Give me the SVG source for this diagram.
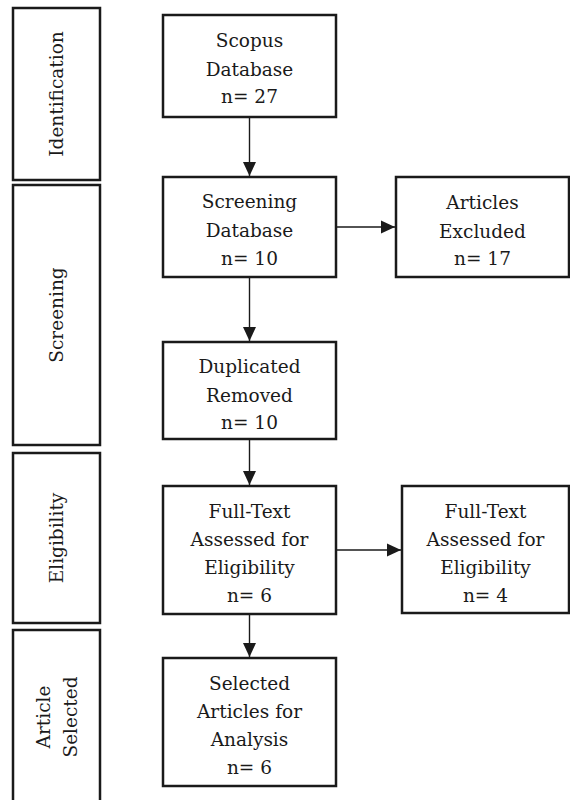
<svg xmlns="http://www.w3.org/2000/svg" width="570" height="800" viewBox="0 0 570 800">
<style>
.box{fill:#fff;stroke:#1a1a1a;stroke-width:2.5}
.t{font-family:"DejaVu Serif","Liberation Serif",serif;font-size:18.5px;fill:#1a1a1a;text-anchor:middle}
.c{stroke:#1a1a1a;stroke-width:1.4;fill:none;marker-end:url(#ah)}
</style>
<defs>
<marker id="ah" markerUnits="userSpaceOnUse" markerWidth="14" markerHeight="14" viewBox="0 0 14 14" refX="14" refY="7" orient="auto">
<path d="M0,0.5 L14,7 L0,13.5 Z" fill="#1a1a1a"/>
</marker>
</defs>
<rect width="570" height="800" fill="#fff"/>
<g id="stage-identification">
<rect class="box" x="13" y="8" width="87" height="172"/>
<text class="t" transform="translate(63,94) rotate(-90)">Identification</text>
</g>
<g id="stage-screening">
<rect class="box" x="13" y="185" width="87" height="260"/>
<text class="t" transform="translate(63,315) rotate(-90)">Screening</text>
</g>
<g id="stage-eligibility">
<rect class="box" x="13" y="453" width="87" height="170"/>
<text class="t" transform="translate(63,538) rotate(-90)">Eligibility</text>
</g>
<g id="stage-selected">
<rect class="box" x="13" y="630" width="87" height="175"/>
<text class="t" transform="translate(50,717) rotate(-90)">Article</text>
<text class="t" transform="translate(77,717) rotate(-90)">Selected</text>
</g>
<g id="scopus">
<rect class="box" x="163" y="15" width="173" height="102"/>
<text class="t" x="249.5" y="47">Scopus</text>
<text class="t" x="249.5" y="76">Database</text>
<text class="t" x="249.5" y="103">n= 27</text>
</g>
<g id="screening">
<rect class="box" x="163" y="177" width="173" height="100"/>
<text class="t" x="249.5" y="208">Screening</text>
<text class="t" x="249.5" y="237">Database</text>
<text class="t" x="249.5" y="265">n= 10</text>
</g>
<g id="excluded">
<rect class="box" x="396" y="177" width="173" height="100"/>
<text class="t" x="482.5" y="209">Articles</text>
<text class="t" x="482.5" y="238">Excluded</text>
<text class="t" x="482.5" y="265">n= 17</text>
</g>
<g id="duplicated">
<rect class="box" x="163" y="342" width="173" height="97"/>
<text class="t" x="249.5" y="373">Duplicated</text>
<text class="t" x="249.5" y="402">Removed</text>
<text class="t" x="249.5" y="429">n= 10</text>
</g>
<g id="fulltext">
<rect class="box" x="163" y="486" width="173" height="128"/>
<text class="t" x="249.5" y="518">Full-Text</text>
<text class="t" x="249.5" y="546">Assessed for</text>
<text class="t" x="249.5" y="574">Eligibility</text>
<text class="t" x="249.5" y="602">n= 6</text>
</g>
<g id="fulltext-excluded">
<rect class="box" x="402" y="486" width="167" height="127"/>
<text class="t" x="485.5" y="518">Full-Text</text>
<text class="t" x="485.5" y="546">Assessed for</text>
<text class="t" x="485.5" y="574">Eligibility</text>
<text class="t" x="485.5" y="602">n= 4</text>
</g>
<g id="selected">
<rect class="box" x="163" y="658" width="173" height="128"/>
<text class="t" x="249.5" y="690">Selected</text>
<text class="t" x="249.5" y="718">Articles for</text>
<text class="t" x="249.5" y="746">Analysis</text>
<text class="t" x="249.5" y="774">n= 6</text>
</g>
<g id="connectors">
<line class="c" x1="249.5" y1="118" x2="249.5" y2="176"/>
<line class="c" x1="249.5" y1="278" x2="249.5" y2="341"/>
<line class="c" x1="249.5" y1="440" x2="249.5" y2="485"/>
<line class="c" x1="249.5" y1="615" x2="249.5" y2="657"/>
<line class="c" x1="337" y1="227" x2="395" y2="227"/>
<line class="c" x1="337" y1="550" x2="401" y2="550"/>
</g>
</svg>
